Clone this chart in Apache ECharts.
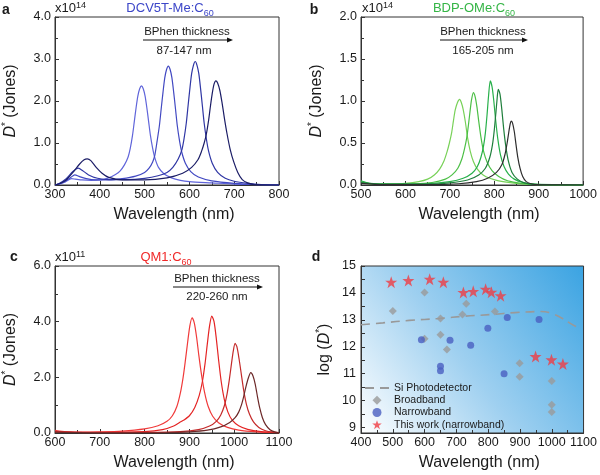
<!DOCTYPE html>
<html><head><meta charset="utf-8">
<script src="https://cdn.jsdelivr.net/npm/echarts@6/dist/echarts.min.js"></script>
<style>html,body{margin:0;padding:0;background:#fff}#c{width:600px;height:475px}</style>
</head><body><div id="c"></div>
<script>
// ---------- Panel a: DCV5T-Me:C60 (x10^14 Jones) ----------
const a1Wl = [300,310,320,330,337,345,360,380,400,420,435,445,455,463,468,473,477,481,485,489,493,497,501,505,509,513,518,523,531,543,560,580,600,650,700,750,800];
const a1D  = [0,0.02,0.06,0.12,0.15,0.14,0.12,0.11,0.12,0.17,0.25,0.33,0.48,0.66,0.87,1.18,1.51,1.84,2.12,2.29,2.36,2.29,2.12,1.84,1.51,1.18,0.87,0.64,0.42,0.27,0.17,0.11,0.08,0.05,0.02,0.01,0];
const a2Wl = [300,310,320,335,344,355,370,390,420,450,480,500,510,518,523,528,533,537,541,545,549,553,557,561,565,569,573,578,583,591,603,620,650,700,750,800];
const a2D  = [0,0.03,0.08,0.18,0.24,0.2,0.15,0.12,0.12,0.15,0.21,0.3,0.4,0.55,0.72,1.05,1.41,1.81,2.2,2.55,2.75,2.83,2.75,2.55,2.2,1.81,1.41,1.05,0.78,0.52,0.32,0.19,0.1,0.04,0.01,0];
const a3Wl = [300,310,325,340,352,362,375,395,420,460,500,530,550,563,575,583,588,593,597,601,605,609,613,617,621,625,629,633,638,643,651,663,680,700,730,760,800];
const a3D  = [0,0.04,0.15,0.32,0.4,0.34,0.24,0.16,0.13,0.13,0.16,0.22,0.3,0.42,0.62,0.83,1.1,1.47,1.88,2.29,2.65,2.85,2.94,2.85,2.65,2.29,1.88,1.47,1.09,0.8,0.52,0.3,0.16,0.09,0.04,0.01,0];
const a4Wl = [300,310,325,340,355,365,372,380,392,405,420,450,500,550,585,605,619,627,633,638,643,647,651,655,659,663,668,673,678,684,691,699,708,718,730,745,800];
const a4D  = [0,0.03,0.12,0.3,0.5,0.6,0.62,0.58,0.42,0.28,0.18,0.12,0.12,0.17,0.28,0.42,0.6,0.8,1.0,1.22,1.55,1.88,2.18,2.4,2.48,2.43,2.25,1.95,1.6,1.22,0.85,0.55,0.3,0.13,0.05,0.01,0];

// ---------- Panel b: BDP-OMe:C60 (x10^14 Jones) ----------
const b1Wl = [500,510,530,560,600,630,650,665,677,687,694,699,704,708,712,717,722,726,730,735,740,746,753,762,775,790,810,840,870,900,1000];
const b1D  = [0.03,0.02,0.01,0.01,0.02,0.04,0.07,0.12,0.19,0.29,0.4,0.5,0.62,0.76,0.89,0.98,1.02,0.98,0.9,0.75,0.56,0.4,0.28,0.19,0.12,0.08,0.05,0.025,0.01,0.005,0];
const b2Wl = [500,520,560,620,660,690,705,718,727,733,738,742,746,749,753,757,761,765,770,776,784,795,810,830,860,900,1000];
const b2D  = [0.04,0.015,0.01,0.015,0.03,0.07,0.12,0.2,0.31,0.43,0.56,0.72,0.9,1.02,1.1,1.05,0.93,0.76,0.57,0.4,0.27,0.17,0.1,0.05,0.02,0.005,0];
const b3Wl = [500,520,560,650,700,730,750,762,770,776,780,784,787,791,795,799,803,808,814,822,832,845,865,890,1000];
const b3D  = [0.05,0.02,0.01,0.015,0.04,0.08,0.14,0.22,0.33,0.47,0.62,0.85,1.05,1.24,1.17,1.0,0.78,0.55,0.36,0.22,0.13,0.07,0.03,0.01,0];
const b4Wl = [500,550,650,700,740,765,780,790,796,800,804,806,809,813,817,821,826,832,840,852,868,890,1000];
const b4D  = [0.03,0.01,0.01,0.025,0.06,0.12,0.2,0.33,0.48,0.65,0.88,1.0,1.14,1.08,0.9,0.68,0.46,0.28,0.15,0.07,0.025,0.008,0];
const b5Wl = [500,550,650,720,760,785,805,817,824,829,833,836,838,841,845,849,853,858,864,872,885,900,1000];
const b5D  = [0.02,0.005,0.005,0.015,0.04,0.08,0.15,0.24,0.36,0.5,0.64,0.73,0.76,0.74,0.64,0.48,0.33,0.2,0.1,0.04,0.012,0.004,0];

// ---------- Panel c: QM1:C60 (x10^11 Jones) ----------
const c1Wl = [600,610,630,660,700,750,800,830,850,862,872,880,886,891,896,901,906,911,916,921,927,934,942,952,965,985,1010,1050,1100];
const c1D  = [0.1,0.07,0.04,0.03,0.04,0.07,0.15,0.26,0.42,0.62,0.95,1.45,2.0,2.6,3.25,3.85,4.14,3.95,3.45,2.8,2.1,1.45,0.95,0.6,0.37,0.2,0.1,0.04,0.01];
const c2Wl = [600,650,700,800,840,865,878,888,900,912,922,929,935,940,945,950,955,960,965,971,978,986,996,1010,1030,1060,1100];
const c2D  = [0.05,0.02,0.02,0.05,0.12,0.25,0.38,0.47,0.62,0.92,1.35,1.85,2.5,3.2,3.85,4.2,4.0,3.4,2.65,1.85,1.2,0.75,0.45,0.26,0.13,0.05,0.01];
const c3Wl = [600,700,800,880,920,945,960,970,978,984,989,994,998,1002,1006,1011,1016,1021,1027,1034,1043,1055,1070,1085,1100];
const c3D  = [0.04,0.01,0.02,0.05,0.12,0.25,0.42,0.65,0.98,1.4,1.9,2.5,2.95,3.22,3.1,2.65,2.1,1.55,1.05,0.68,0.4,0.2,0.08,0.03,0.01];
const c4Wl = [600,700,850,900,940,970,990,1002,1010,1016,1021,1026,1031,1037,1042,1047,1052,1057,1063,1070,1080,1090,1100];
const c4D  = [0.03,0.005,0.01,0.04,0.1,0.22,0.38,0.55,0.75,1.0,1.3,1.65,1.95,2.17,2.05,1.75,1.3,0.9,0.55,0.3,0.12,0.04,0.01];

// ---------- Panel d: log(D*) comparison ----------
const siWl   = [400,469,552,646,729,812,884,967,998,1029,1061,1092];
const siLogD = [12.82,12.89,12.98,13.05,13.14,13.2,13.27,13.31,13.25,13.08,12.85,12.66];
const broadWl   = [500,600,731,650,719,821,600,650,670,899,899,1000,1000,1000];
const broadLogD = [13.33,14.02,13.6,13.05,13.2,13.31,12.3,12.45,11.9,11.39,10.89,10.73,9.85,9.58];
const narrowWl   = [590,680,745,799,860,960,650,650,850];
const narrowLogD = [12.26,12.24,12.06,12.69,13.09,13.01,11.28,11.11,11.0];
const thisWl   = [495,549,616,659,722,753,792,810,839,949,999,1035];
const thisLogD = [14.4,14.46,14.51,14.4,14.02,14.06,14.14,14.03,13.9,11.64,11.52,11.36];
const dYTicks = [9,9.5,10,10.5,11,11.5,12,12.5,13,13.5,14,14.5,15];
const dYLabels = [9,10,11,12,13,14,15];
const legendNames = ['Si Photodetector', 'Broadband', 'Narrowband', 'This work (narrowband)'];

const zip = (xs, ys) => xs.map((x, i) => [x, ys[i]]);
const FONT = 'Liberation Sans';
const INK = '#1a1a1a';

const grids = [
  {left: 54, top: 17, width: 225, height: 168, show: true, borderColor: '#333', borderWidth: 1, backgroundColor: 'transparent'},
  {left: 361, top: 17, width: 225, height: 168, show: true, borderColor: '#333', borderWidth: 1, backgroundColor: 'transparent'},
  {left: 54, top: 266, width: 225, height: 167, show: true, borderColor: '#333', borderWidth: 1, backgroundColor: 'transparent'},
  {left: 361, top: 266, width: 225, height: 167, show: true, borderColor: '#333', borderWidth: 1,
   backgroundColor: new echarts.graphic.LinearGradient(0, 1, 1, 0, [
     {offset: 0, color: '#ffffff'}, {offset: 0.45, color: '#9fd0f0'}, {offset: 1, color: '#3aa3e2'}])}
];

const nameRich = {
  n: {fontSize: 16, fontFamily: FONT, color: INK, lineHeight: 20},
  i: {fontSize: 16, fontFamily: FONT, fontStyle: 'italic', color: INK, lineHeight: 20},
  s: {fontSize: 10, fontFamily: FONT, color: INK, verticalAlign: 'top', lineHeight: 20}
};

function xAx(gi, min, max) {
  return {
    type: 'value', gridIndex: gi, min: min, max: max, interval: 100,
    name: 'Wavelength (nm)', nameLocation: 'middle', nameGap: 22,
    nameTextStyle: {fontSize: 16, fontFamily: FONT, color: INK, padding: [0, 0, 0, 14]},
    axisLine: {show: true, lineStyle: {color: '#333', width: 1}},
    axisTick: {show: true, inside: true, length: 4, lineStyle: {color: '#333'}},
    minorTick: {show: true, splitNumber: 2, length: 3, lineStyle: {color: '#333'}},
    splitLine: {show: false}, minorSplitLine: {show: false},
    axisLabel: {fontSize: 12.5, fontFamily: FONT, color: INK, margin: 3, formatter: v => String(v)}
  };
}
function yAx(gi, min, max, interval, nameStr, gap) {
  return {
    type: 'value', gridIndex: gi, min: min, max: max, interval: interval,
    name: nameStr, nameLocation: 'middle', nameGap: gap, nameRotate: 90,
    nameTextStyle: {rich: nameRich},
    axisLine: {show: true, lineStyle: {color: '#333', width: 1}},
    axisTick: {show: true, inside: true, length: 4, lineStyle: {color: '#333'}},
    minorTick: {show: true, splitNumber: 2, length: 3, lineStyle: {color: '#333'}},
    splitLine: {show: false}, minorSplitLine: {show: false},
    axisLabel: {fontSize: 12.5, fontFamily: FONT, color: INK, margin: 4, formatter: v => v.toFixed(1)}
  };
}

const dNameStr = '{n|log (}{i|D}{s|*}{n|)}';
const jonesName = '{i|D}{s|*}{n| (Jones)}';

const yAxes = [
  yAx(0, 0, 4, 1, jonesName, 34),
  yAx(1, 0, 2, 0.5, jonesName, 34),
  yAx(2, 0, 6, 2, jonesName, 34),
  {
    type: 'value', gridIndex: 3, min: 8.8, max: 15,
    name: dNameStr, nameLocation: 'middle', nameGap: 26, nameRotate: 90,
    nameTextStyle: {rich: nameRich},
    axisLine: {show: true, lineStyle: {color: '#333', width: 1}},
    axisTick: {show: true, inside: true, length: 4, lineStyle: {color: '#333'}, customValues: dYTicks},
    splitLine: {show: false},
    axisLabel: {fontSize: 12.5, fontFamily: FONT, color: INK, margin: 5, customValues: dYLabels}
  }
];
const xAxes = [xAx(0, 300, 800), xAx(1, 500, 1000), xAx(2, 600, 1100), xAx(3, 400, 1100)];

function curve(gi, wl, d, color) {
  return {
    type: 'line', xAxisIndex: gi, yAxisIndex: gi, data: zip(wl, d),
    smooth: 0.25, showSymbol: false, symbol: 'none',
    lineStyle: {color: color, width: 1.2}, silent: true, z: 3
  };
}

const STAR = 'path://M50,2 L61.8,36.2 L97.6,36.2 L68.6,57.6 L79.4,92 L50,71 L20.6,92 L31.4,57.6 L2.4,36.2 L38.2,36.2 Z';
const DIAMOND = 'path://M50,0 L100,50 L50,100 L0,50 Z';
const DASH_ICON = 'path://M0,0 L9,0 L9,2 L0,2 Z M15,0 L24,0 L24,2 L15,2 Z';

const series = [
  curve(0, a1Wl, a1D, '#6065da'),
  curve(0, a2Wl, a2D, '#4249c2'),
  curve(0, a3Wl, a3D, '#2f36a4'),
  curve(0, a4Wl, a4D, '#1b1d66'),
  curve(1, b1Wl, b1D, '#78d158'),
  curve(1, b2Wl, b2D, '#4cbf46'),
  curve(1, b3Wl, b3D, '#27b04a'),
  curve(1, b4Wl, b4D, '#1f7f3c'),
  curve(1, b5Wl, b5D, '#2e2e2e'),
  curve(2, c1Wl, c1D, '#f03a3a'),
  curve(2, c2Wl, c2D, '#e42424'),
  curve(2, c3Wl, c3D, '#c42a2a'),
  curve(2, c4Wl, c4D, '#6c2828'),
  {name: legendNames[0], type: 'line', xAxisIndex: 3, yAxisIndex: 3, data: zip(siWl, siLogD),
   smooth: 0.4, showSymbol: false, symbol: 'none',
   lineStyle: {color: '#999999', width: 1.6, type: [9, 6]}, itemStyle: {color: '#999999'}, z: 3},
  {name: legendNames[1], type: 'scatter', xAxisIndex: 3, yAxisIndex: 3, data: zip(broadWl, broadLogD),
   symbol: DIAMOND, symbolSize: 8, itemStyle: {color: '#9a9a9a'}, z: 4},
  {name: legendNames[2], type: 'scatter', xAxisIndex: 3, yAxisIndex: 3, data: zip(narrowWl, narrowLogD),
   symbol: 'circle', symbolSize: 7, itemStyle: {color: '#4a5fc0'}, z: 4},
  {name: legendNames[3], type: 'scatter', xAxisIndex: 3, yAxisIndex: 3, data: zip(thisWl, thisLogD),
   symbol: STAR, symbolSize: 12, itemStyle: {color: '#f03c44'}, z: 5}
];

function txt(x, y, text, opts) {
  return {
    type: 'text', x: x, y: y, silent: true,
    style: Object.assign({text: text, fill: INK, font: '11.5px "' + FONT + '"', align: 'center', verticalAlign: 'middle'}, opts || {})
  };
}
function arrow(x1, x2, y) {
  return [
    {type: 'line', silent: true, shape: {x1: x1, y1: y, x2: x2 - 4, y2: y}, style: {stroke: '#111', lineWidth: 1}},
    {type: 'polygon', silent: true, shape: {points: [[x2 - 6, y - 2.5], [x2, y], [x2 - 6, y + 2.5]]}, style: {fill: '#111'}}
  ];
}
const supRich = {
  b: {fontSize: 13, fontFamily: FONT, fill: INK, verticalAlign: 'bottom', lineHeight: 14},
  p: {fontSize: 9, fontFamily: FONT, fill: INK, verticalAlign: 'top', lineHeight: 14}
};
function titleRich(color) {
  return {
    t: {fontSize: 13, fontFamily: FONT, fill: color, lineHeight: 16, verticalAlign: 'top'},
    u: {fontSize: 9, fontFamily: FONT, fill: color, lineHeight: 16, verticalAlign: 'bottom'}
  };
}

const graphics = [
  txt(6, 10, 'a', {font: 'bold 14px "' + FONT + '"'}),
  txt(314, 10, 'b', {font: 'bold 14px "' + FONT + '"'}),
  txt(14, 257, 'c', {font: 'bold 14px "' + FONT + '"'}),
  txt(316, 257, 'd', {font: 'bold 14px "' + FONT + '"'}),
  txt(55, 8, '{b|x10}{p|14}', {align: 'left', rich: supRich}),
  txt(362, 8, '{b|x10}{p|14}', {align: 'left', rich: supRich}),
  txt(55, 257, '{b|x10}{p|11}', {align: 'left', rich: supRich}),
  txt(170, 10, '{t|DCV5T-Me:C}{u|60}', {rich: titleRich('#3c46c8')}),
  txt(474, 10, '{t|BDP-OMe:C}{u|60}', {rich: titleRich('#35b546')}),
  txt(166, 259, '{t|QM1:C}{u|60}', {rich: titleRich('#f02828')}),
  txt(187, 32, 'BPhen thickness'),
  txt(184, 51, '87-147 nm'),
  txt(483, 32, 'BPhen thickness'),
  txt(483, 51, '165-205 nm'),
  txt(217, 279, 'BPhen thickness'),
  txt(217, 297, '220-260 nm')
].concat(arrow(143, 233, 40), arrow(440, 528, 40), arrow(173, 263, 287));

const chart = echarts.init(document.getElementById('c'), null, {renderer: 'canvas'});
chart.setOption({
  animation: false,
  backgroundColor: '#ffffff',
  grid: grids,
  xAxis: xAxes,
  yAxis: yAxes,
  series: series,
  legend: {
    data: [
      {name: legendNames[0], icon: DASH_ICON, itemStyle: {color: '#999999'}},
      {name: legendNames[1], icon: DIAMOND, itemStyle: {color: '#9a9a9a'}},
      {name: legendNames[2], icon: 'path://M50,0 A50,50 0 1 1 49.9,0 Z', itemStyle: {color: '#4a5fc0'}},
      {name: legendNames[3], icon: STAR, itemStyle: {color: '#f03c44'}}
    ],
    orient: 'vertical', left: 365, top: 382, itemWidth: 24, itemHeight: 9, itemGap: 0,
    padding: 0, selectedMode: false, symbolKeepAspect: true,
    textStyle: {fontSize: 10.5, fontFamily: FONT, color: INK, lineHeight: 12.2}
  },
  graphic: graphics
});
</script></body></html>
